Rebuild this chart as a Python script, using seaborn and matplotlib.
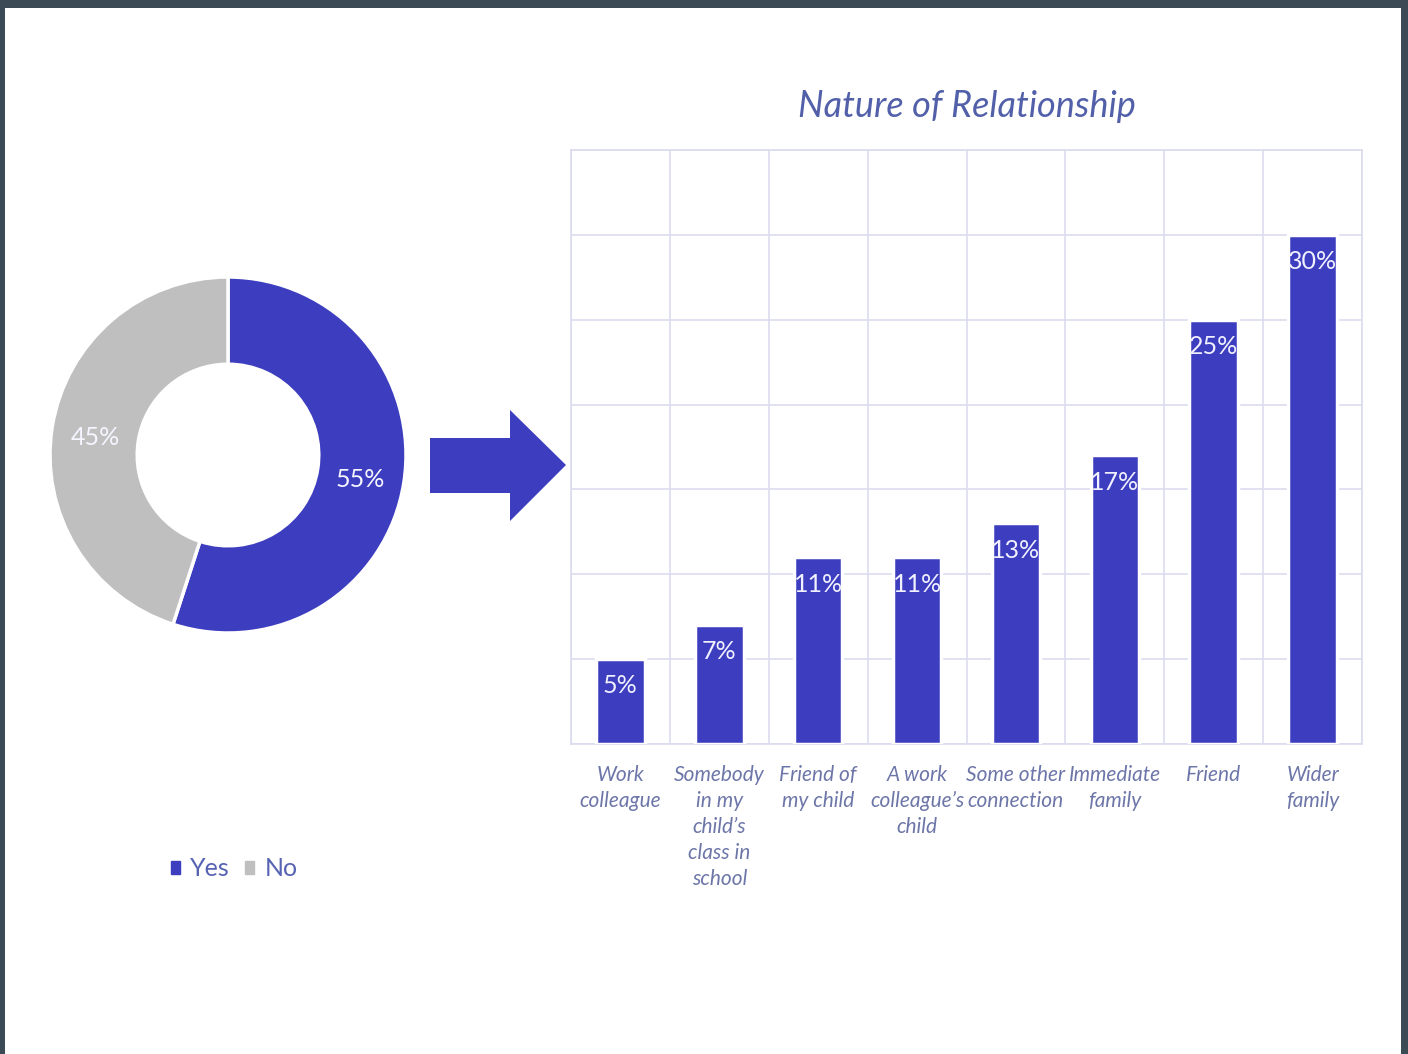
import matplotlib
matplotlib.use("Agg")
import matplotlib.pyplot as plt
from matplotlib.patches import Rectangle, Polygon
from matplotlib.transforms import Affine2D
import seaborn as sns
import pandas as pd
import numpy as np

# --- data ---
donut_labels = ["Yes", "No"]
donut_values = [55, 45]

categories = [
    "Work\ncolleague",
    "Somebody\nin my\nchild’s\nclass in\nschool",
    "Friend of\nmy child",
    "A work\ncolleague’s\nchild",
    "Some other\nconnection",
    "Immediate\nfamily",
    "Friend",
    "Wider\nfamily",
]
shares = [5, 7, 11, 11, 13, 17, 25, 30]

BLUE = "#3d3dbf"
GRAY = "#bfbfbf"
GRID = "#dcdcef"
TITLE_C = "#5260aa"
TICK_C = "#6d76a8"
FRAME = "#3c4a55"

sns.set_theme(style="white")
plt.rcParams["font.family"] = ["Lato", "DejaVu Sans"]

W, H = 1408, 1054
fig = plt.figure(figsize=(W / 100, H / 100), dpi=100)
fig.patch.set_facecolor(FRAME)
fig.patches.append(Rectangle((5 / W, 0), (1401 - 5) / W, (H - 8) / H,
                             transform=fig.transFigure, facecolor="white",
                             edgecolor="none", zorder=-10))

def px_axes(x0, y0, x1, y1):
    return fig.add_axes([x0 / W, (H - y1) / H, (x1 - x0) / W, (y1 - y0) / H])

# --- bar chart ---
ax = px_axes(571, 150, 1362, 744)
df = pd.DataFrame({"cat": categories, "share": shares})
sns.barplot(data=df, x="cat", y="share", color=BLUE, saturation=1,
            width=0.49, edgecolor="white", linewidth=2.5, ax=ax, zorder=3)
ax.set_ylim(0, 35)
ax.set_xlim(-0.5, len(categories) - 0.5)
ax.set_yticks(np.arange(0, 36, 5))
ax.set_yticklabels([])
ax.tick_params(axis="y", length=0)
ax.set_xticks(np.arange(len(categories)))
ax.set_xticklabels(categories, fontsize=15, style="italic",
                   color=TICK_C, linespacing=1.38)
ax.tick_params(axis="x", length=0, pad=15)
ax.set_xticks(np.arange(-0.5, len(categories)), minor=True)
ax.tick_params(axis="x", which="minor", length=8, width=1.2, color=GRID, direction="out")
ax.grid(True, which="major", axis="y", color=GRID, linewidth=1.2, zorder=0)
ax.grid(True, which="minor", axis="x", color=GRID, linewidth=1.2, zorder=0)
ax.grid(False, which="major", axis="x")
for s in ax.spines.values():
    s.set_color(GRID)
    s.set_linewidth(1.2)
ax.set_xlabel("")
ax.set_ylabel("")
ax.set_axisbelow(True)
for i, v in enumerate(shares):
    ax.annotate(f"{v}%", (i, v), xytext=(0, -11), textcoords="offset points",
                ha="center", va="top", color="#f0f0ff", fontsize=18, zorder=5)
ax.set_title("Nature of Relationship", fontsize=26, style="italic",
             color=TITLE_C, pad=24)

# --- donut ---
dax = px_axes(50, 277, 406, 633)
wedges, _ = dax.pie(donut_values, colors=[BLUE, GRAY], startangle=90,
                    counterclock=False, radius=1,
                    wedgeprops=dict(width=0.49, edgecolor="white", linewidth=2.5))
dax.set_xlim(-1, 1)
dax.set_ylim(-1, 1)
dax.set_aspect("equal")
mid_r = 0.755
angles = []
start = 90
for v in donut_values:
    a = start - v * 360 / 100 / 2
    angles.append(a)
    start -= v * 360 / 100
for a, v in zip(angles, donut_values):
    dax.text(mid_r * np.cos(np.radians(a)), mid_r * np.sin(np.radians(a)) - 0.02,
             f"{v}%", ha="center", va="center", color="#f5f5ff", fontsize=18)

# legend
handles = [Rectangle((0, 0), 1, 1, color=c) for c in [BLUE, GRAY]]
leg = fig.legend(handles, donut_labels, loc="center", bbox_to_anchor=(234 / W, 1 - 869 / H),
                 ncol=2, frameon=False, fontsize=18, handlelength=0.38, handleheight=0.38,
                 handletextpad=0.4, columnspacing=0.6)
for t in leg.get_texts():
    t.set_color("#5763b3")

# arrow between the two charts, in pixel units from the top-left corner
px = Affine2D().scale(1 / W, -1 / H).translate(0, 1) + fig.transFigure
arrow = Polygon([(430, 438), (510, 438), (510, 410), (566, 465), (510, 521),
                 (510, 493), (430, 493)], closed=True, facecolor=BLUE,
                edgecolor="none", transform=px, zorder=1)
fig.patches.append(arrow)

fig.savefig("out.png", dpi=100, facecolor=fig.get_facecolor())
